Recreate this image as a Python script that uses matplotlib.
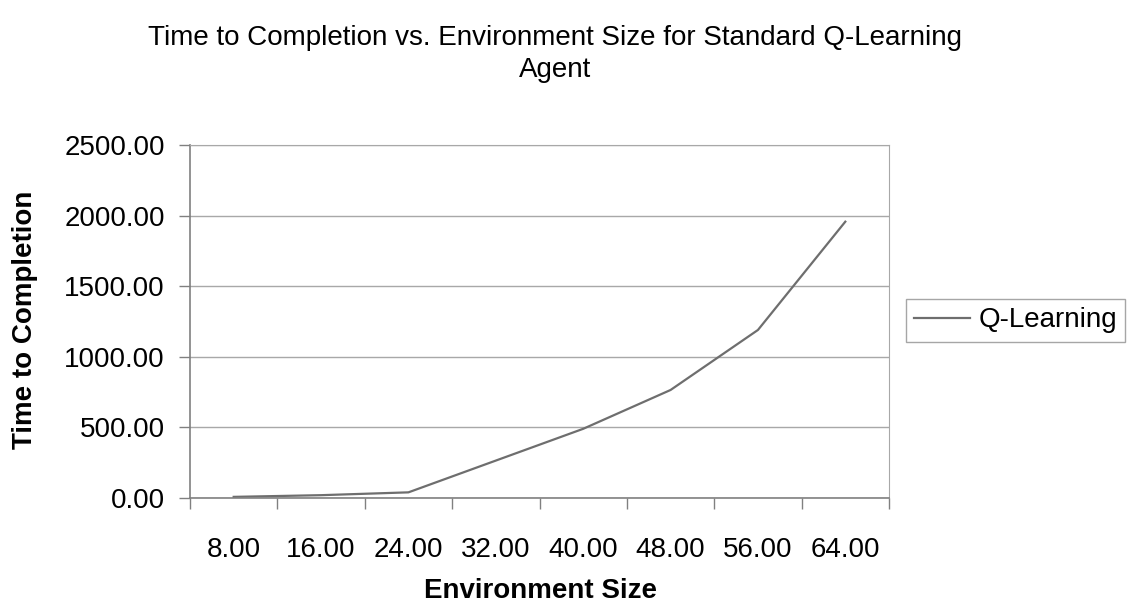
import matplotlib.pyplot as plt
from matplotlib.ticker import FixedLocator, FuncFormatter

plt.rcParams['font.family'] = ['Liberation Sans', 'DejaVu Sans']

# data
env_size = ['8.00', '16.00', '24.00', '32.00', '40.00', '48.00', '56.00', '64.00']
time_q = [8, 20, 40, 265, 490, 765, 1190, 1957]

fig = plt.figure(figsize=(11.35, 6.11), dpi=100)
ax = fig.add_axes([190 / 1135, 113 / 611, 699 / 1135, 353 / 611])

x = list(range(len(env_size)))
ax.plot(x, time_q, color='#6e6e6e', linewidth=1.6, label='Q-Learning')

ax.set_xlim(-0.5, len(env_size) - 0.5)
ax.set_ylim(0, 2500)

# categories sit between tick marks, like Excel
ax.set_xticks(x)
ax.set_xticklabels(env_size)
ax.xaxis.set_minor_locator(FixedLocator([i - 0.5 for i in range(len(env_size) + 1)]))
ax.tick_params(axis='x', which='major', length=0, pad=28, labelsize=20)
ax.tick_params(axis='x', which='minor', length=8, width=1, color='#808080', direction='out')

ax.set_yticks(range(0, 2501, 500))
ax.yaxis.set_major_formatter(FuncFormatter(lambda v, p: '%.2f' % v))
ax.tick_params(axis='y', length=8, width=1, color='#808080', direction='out', labelsize=20, pad=10)

ax.grid(axis='y', color='#a8a8a8', linewidth=1)
ax.set_axisbelow(True)
for side in ['top', 'right']:
    ax.spines[side].set_color('#a8a8a8')
for side in ['left', 'bottom']:
    ax.spines[side].set_color('#808080')
    ax.spines[side].set_linewidth(1.2)

fig.text(25 / 1135, 1 - 320 / 611, 'Time to Completion', rotation=90, fontsize=20,
         fontweight='bold', ha='center', va='center')
fig.text(540 / 1135, 1 - 591 / 611, 'Environment Size', fontsize=20,
         fontweight='bold', ha='center', va='center')
fig.text(555 / 1135, 1 - 25 / 611,
         'Time to Completion vs. Environment Size for Standard Q-Learning\nAgent',
         fontsize=20, ha='center', va='top', linespacing=1.3)

leg = fig.legend(loc='upper left', bbox_to_anchor=(906 / 1135, 1 - 299 / 611),
                 fontsize=20, frameon=True, fancybox=False, handlelength=2.0,
                 handletextpad=0.3, borderpad=0.3, borderaxespad=0)
leg.get_frame().set_edgecolor('#909090')
leg.get_frame().set_linewidth(1)

fig.savefig('out.png', dpi=100)
